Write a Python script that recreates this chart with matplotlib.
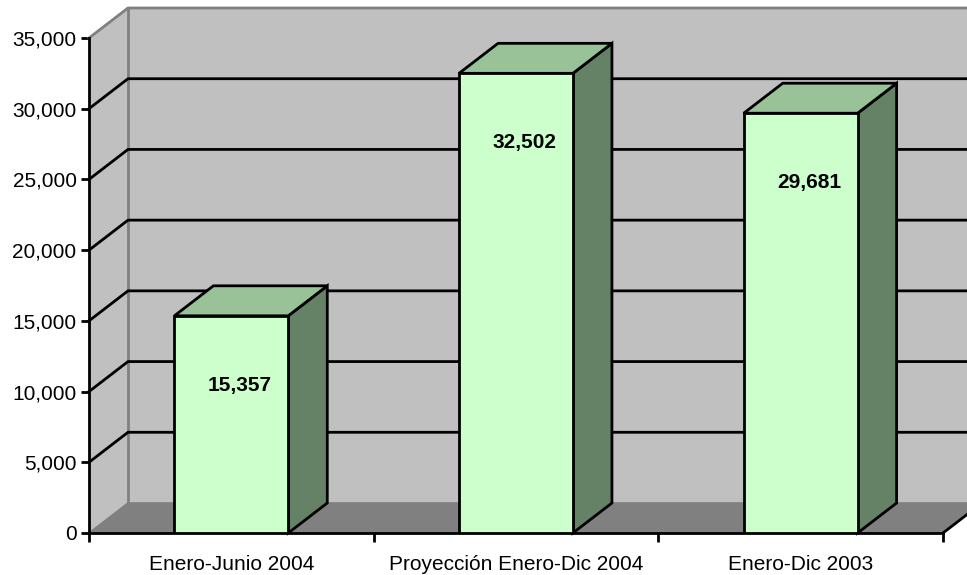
import numpy as np
import matplotlib
matplotlib.use('Agg')
import matplotlib.pyplot as plt
from matplotlib.patches import Polygon
from matplotlib.ticker import FuncFormatter

categorias = ['Enero-Junio 2004', 'Proyección Enero-Dic 2004', 'Enero-Dic 2003']
valores = [15357, 32502, 29681]
yticks = [0, 5000, 10000, 15000, 20000, 25000, 30000, 35000]

plt.rcParams['font.family'] = ['Liberation Sans', 'DejaVu Sans']

fig = plt.figure(figsize=(9.67, 5.75), dpi=100)
ax = fig.add_axes([89/967, 42/575, 854/967, 495/575])
ax.set_xlim(0, 3)
ax.set_ylim(0, 35000)
ax.patch.set_visible(False)

# profundidad del efecto 3D (en unidades de datos)
dx = 39/(854/3)
dy = 30*35000/495
ymax = 35000

gris = '#C0C0C0'
borde = '#808080'

# pared lateral, pared de fondo y piso
ax.add_patch(Polygon([(0, 0), (dx, dy), (dx, ymax+dy), (0, ymax)], closed=True,
                     facecolor=gris, edgecolor='none', clip_on=False, zorder=0))
ax.add_patch(Polygon([(dx, dy), (3+dx+0.2, dy), (3+dx+0.2, ymax+dy), (dx, ymax+dy)], closed=True,
                     facecolor=gris, edgecolor='none', clip_on=False, zorder=0))
ax.add_patch(Polygon([(0, 0), (3, 0), (3+dx, dy), (dx, dy)], closed=True,
                     facecolor=borde, edgecolor='none', clip_on=False, zorder=1))

# bordes grises
ax.plot([dx, dx], [dy, ymax+dy], color=borde, lw=2, clip_on=False, zorder=2)
ax.plot([0, dx, 3+dx+0.2], [ymax, ymax+dy, ymax+dy], color=borde, lw=2, clip_on=False, zorder=2)
ax.plot([0, dx, 3+dx+0.2], [0, dy, dy], color=borde, lw=1.2, clip_on=False, zorder=2)

# lineas de division
for v in yticks[1:-1]:
    ax.plot([0, dx, 3+dx+0.2], [v, v+dy, v+dy], color='black', lw=2, clip_on=False, zorder=2)

# borde frontal derecho del piso
ax.plot([3, 3+dx], [0, dy], color='black', lw=2, clip_on=False, zorder=3)

# barras
ancho = 0.4
for i, v in enumerate(valores):
    x0 = i + 0.3
    x1 = x0 + ancho
    frente = Polygon([(x0, 0), (x1, 0), (x1, v), (x0, v)], closed=True,
                     facecolor='#CCFFCC', edgecolor='black', lw=2, zorder=5)
    arriba = Polygon([(x0, v), (x1, v), (x1+dx, v+dy), (x0+dx, v+dy)], closed=True,
                     facecolor='#99C299', edgecolor='black', lw=2, zorder=5, clip_on=False)
    lado = Polygon([(x1, 0), (x1+dx, dy), (x1+dx, v+dy), (x1, v)], closed=True,
                   facecolor='#668266', edgecolor='black', lw=2, zorder=5, clip_on=False)
    ax.add_patch(lado)
    ax.add_patch(arriba)
    ax.add_patch(frente)
    ax.annotate('{:,}'.format(v), (x0 + ancho/2, v), xytext=(6, -50),
                textcoords='offset points', ha='center', va='center',
                fontsize=15, fontweight='bold', zorder=6)

for s in ['top', 'right']:
    ax.spines[s].set_visible(False)
for s in ['left', 'bottom']:
    ax.spines[s].set_linewidth(2)
    ax.spines[s].set_zorder(4)

ax.set_yticks(yticks)
ax.yaxis.set_major_formatter(FuncFormatter(lambda v, p: '{:,}'.format(int(v))))
ax.tick_params(axis='y', length=6, width=2, pad=3, labelsize=15)
ax.set_xticks([0, 1, 2, 3])
ax.set_xticklabels([])
ax.set_xticks([0.5, 1.5, 2.5], minor=True)
ax.set_xticklabels(categorias, minor=True)
ax.tick_params(axis='x', which='major', length=6.5, width=2)
ax.tick_params(axis='x', which='minor', length=0, pad=16, labelsize=15)

fig.savefig('out.png', dpi=100)
